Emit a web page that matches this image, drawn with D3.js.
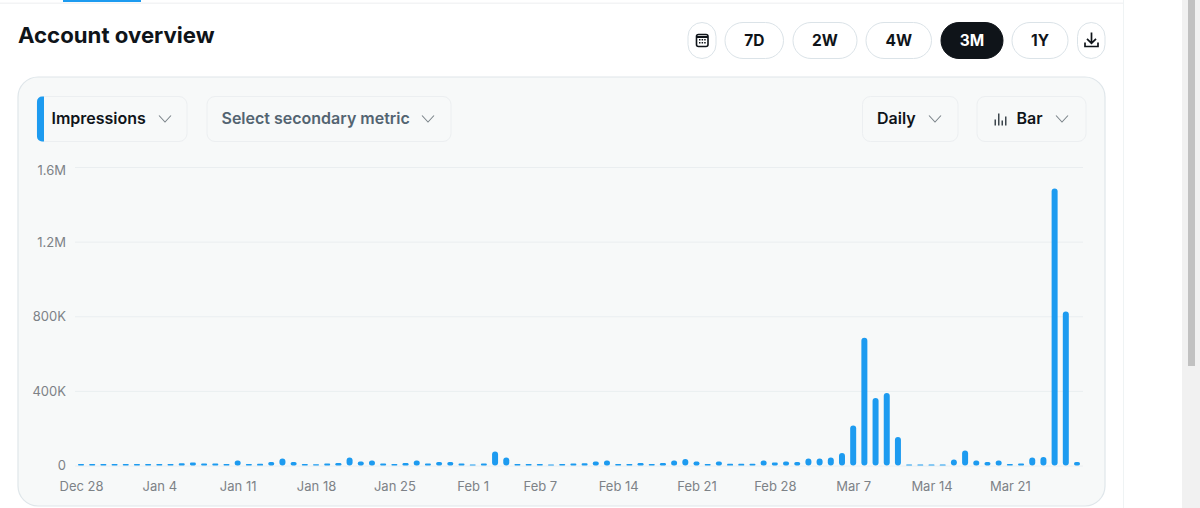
<!DOCTYPE html>
<html>
<head>
<meta charset="utf-8">
<title>Account overview</title>
<script src="https://cdn.jsdelivr.net/npm/d3@7"></script>
<style>
  html, body { margin: 0; padding: 0; background: #fff; overflow: hidden; }
  svg { display: block; font-family: Inter, "Noto Sans", sans-serif; }
</style>
</head>
<body>
<div id="chart"></div>
<script>
// daily impressions (thousands), Dec 28 - Mar 27
var impressions = [
  8, 8, 8, 8, 8, 8, 8, 8, 8, 12,
  16, 11, 11, 8, 27, 8, 9, 19, 38, 19,
  8, 7, 11, 13, 43, 21, 27, 11, 8, 13,
  27, 11, 19, 19, 11, 5, 11, 75, 43, 8,
  8, 8, 5, 8, 11, 12, 21, 27, 8, 8,
  13, 8, 13, 27, 35, 21, 8, 21, 9, 9,
  10, 27, 16, 21, 19, 38, 38, 43, 67, 215,
  685, 362, 388, 153, 5, 5, 6, 6, 32, 80,
  27, 19, 27, 8, 11, 43, 46, 1485, 825, 19
];
var dayLabels = ["Dec 28", "Jan 4", "Jan 11", "Jan 18", "Jan 25", "Feb 1", "Feb 7", "Feb 14", "Feb 21", "Feb 28", "Mar 7", "Mar 14", "Mar 21"];
var labelDays = [0, 7, 14, 21, 28, 35, 41, 48, 55, 62, 69, 76, 83];
var yTicks = [0, 400, 800, 1200, 1600];
var yTickLabels = ["0", "400K", "800K", "1.2M", "1.6M"];

var rangeButtons = [
  { label: "7D", x0: 725, x1: 783.5 },
  { label: "2W", x0: 793, x1: 857 },
  { label: "4W", x0: 866, x1: 931.5 },
  { label: "3M", x0: 941, x1: 1003, on: true },
  { label: "1Y", x0: 1012, x1: 1068 }
];

var width = 1200, height = 508;
var svg = d3.select("#chart").append("svg").attr("width", width).attr("height", height);

// page furniture
svg.append("rect").attr("x", 0).attr("y", 2.5).attr("width", 1123).attr("height", 1.5).attr("fill", "#f3f4f5");
svg.append("rect").attr("x", 63).attr("y", 0).attr("width", 78).attr("height", 2).attr("fill", "#1d9bf0");
svg.append("rect").attr("x", 1123).attr("y", 0).attr("width", 1).attr("height", height).attr("fill", "#eff3f4");
svg.append("rect").attr("x", 1182).attr("y", 0).attr("width", 18).attr("height", height).attr("fill", "#f1f1f1");
svg.append("rect").attr("x", 1188).attr("y", 0).attr("width", 7).attr("height", 366).attr("fill", "#c1c1c1");

svg.append("text").attr("x", 18).attr("y", 43.3).attr("font-size", 22.2).attr("font-weight", 700)
  .attr("fill", "#0f1419").text("Account overview");

// range buttons
var btn = svg.selectAll(".range").data(rangeButtons).enter().append("g").attr("class", "range");
btn.append("rect")
  .attr("x", function(d) { return d.x0; })
  .attr("y", 22.5)
  .attr("width", function(d) { return d.x1 - d.x0; })
  .attr("height", 36)
  .attr("rx", 18)
  .attr("fill", function(d) { return d.on ? "#0f1419" : "#fff"; })
  .attr("stroke", function(d) { return d.on ? "#0f1419" : "#dbe3e8"; });
btn.append("text")
  .attr("x", function(d) { return (d.x0 + d.x1) / 2; })
  .attr("y", 46)
  .attr("text-anchor", "middle")
  .attr("font-size", 15.5)
  .attr("font-weight", 700)
  .attr("fill", function(d) { return d.on ? "#fff" : "#0f1419"; })
  .text(function(d) { return d.label; });

// calendar and download buttons
svg.append("rect").attr("x", 688).attr("y", 22.5).attr("width", 28).attr("height", 36).attr("rx", 14)
  .attr("fill", "#fff").attr("stroke", "#dbe3e8");
svg.append("rect").attr("x", 696.5).attr("y", 34.5).attr("width", 11.5).attr("height", 12).attr("rx", 2)
  .attr("fill", "none").attr("stroke", "#0f1419").attr("stroke-width", 1.6);
svg.append("path").attr("d", "M696 37H708").attr("stroke", "#0f1419").attr("stroke-width", 2);
svg.append("path").attr("d", "M699 39.8h1.5M701.6 39.8h1.5M704.2 39.8h1.5M699 42.8h1.5M701.6 42.8h1.5M704.2 42.8h1.5")
  .attr("stroke", "#0f1419").attr("stroke-width", 1.5);

svg.append("rect").attr("x", 1077.5).attr("y", 22.5).attr("width", 27.5).attr("height", 36).attr("rx", 14)
  .attr("fill", "#fff").attr("stroke", "#dbe3e8");
svg.append("path").attr("d", "M1091.5 32.5V43M1087 38.8L1091.5 43.3L1096 38.8M1085 42.5V46.5H1098V42.5")
  .attr("fill", "none").attr("stroke", "#0f1419").attr("stroke-width", 1.7);

// chart panel
svg.append("rect").attr("x", 18).attr("y", 77).attr("width", 1087).attr("height", 429).attr("rx", 20)
  .attr("fill", "#f7f9f9").attr("stroke", "#dfe6ea").attr("stroke-width", 1.2);

function chevron(x, y) {
  svg.append("path").attr("d", "M" + (x - 6) + " " + (y - 3) + "L" + x + " " + (y + 3.5) + "L" + (x + 6) + " " + (y - 3))
    .attr("fill", "none").attr("stroke", "#7b848a").attr("stroke-width", 1.1);
}
function dropdown(x0, x1, label, textX, color, chevX) {
  svg.append("rect").attr("x", x0).attr("y", 96.5).attr("width", x1 - x0).attr("height", 45).attr("rx", 8)
    .attr("fill", "#f7f9f9").attr("stroke", "#eceff1");
  svg.append("text").attr("x", textX).attr("y", 124.3).attr("font-size", 16).attr("font-weight", 600)
    .attr("fill", color).text(label);
  chevron(chevX, 118.5);
}
dropdown(37, 187, "Impressions", 51.5, "#0f1419", 165);
dropdown(207, 451, "Select secondary metric", 221.5, "#536471", 428);
dropdown(862.5, 958, "Daily", 877, "#0f1419", 935);
dropdown(977, 1086, "Bar", 1016.5, "#0f1419", 1062);

// blue marker on the primary metric
svg.append("path").attr("d", "M44 96.5H42A5 5 0 0 0 37 101.5V136.5A5 5 0 0 0 42 141.5H44Z").attr("fill", "#1d9bf0");

// little bar icon
svg.selectAll(".ico").data([6, 12, 5, 9]).enter().append("rect").attr("class", "ico")
  .attr("x", function(d, i) { return 994.5 + i * 3.5; })
  .attr("y", function(d) { return 125.5 - d; })
  .attr("width", 1.5)
  .attr("height", function(d) { return d; })
  .attr("fill", "#3d464d");

// scales
var x = d3.scaleLinear().domain([0, impressions.length - 1]).range([81, 1077]);
var y = d3.scaleLinear().domain([0, 1600]).range([465.5, 167]);

// y axis with the gridlines
var yAxis = d3.axisLeft(y)
  .tickValues(yTicks)
  .tickSize(-1008)
  .tickPadding(0)
  .tickFormat(function(d, i) { return yTickLabels[i]; });

var yG = svg.append("g").attr("transform", "translate(75,0)").call(yAxis);
yG.select(".domain").remove();
yG.selectAll("line").attr("stroke", "#eaeef0").attr("stroke-width", 1);
yG.selectAll("text")
  .attr("x", -9)
  .attr("y", function(d) { return d == 1600 ? 3 : (d == 1200 ? 1 : 0); })
  .attr("font-size", 13)
  .attr("font-family", "Inter, sans-serif")
  .attr("fill", "#7d8287");

// x axis, labels only
var xAxis = d3.axisBottom(x)
  .tickValues(labelDays)
  .tickSize(0)
  .tickPadding(0)
  .tickFormat(function(d, i) { return dayLabels[i]; });

var xG = svg.append("g").attr("transform", "translate(0,482)").call(xAxis);
xG.select(".domain").remove();
xG.selectAll("text")
  .attr("font-size", 13)
  .attr("font-family", "Inter, sans-serif")
  .attr("fill", "#7d8287");

// bars
svg.selectAll(".bar")
  .data(impressions)
  .enter().append("rect")
  .attr("class", "bar")
  .attr("x", function(d, i) { return x(i) - 3; })
  .attr("y", function(d) { return y(d); })
  .attr("width", 6)
  .attr("height", function(d) { return y(0) - y(d); })
  .attr("rx", function(d) { return Math.min(3, (y(0) - y(d)) / 2); })
  .attr("fill", "#1d9bf0");
</script>
</body>
</html>
